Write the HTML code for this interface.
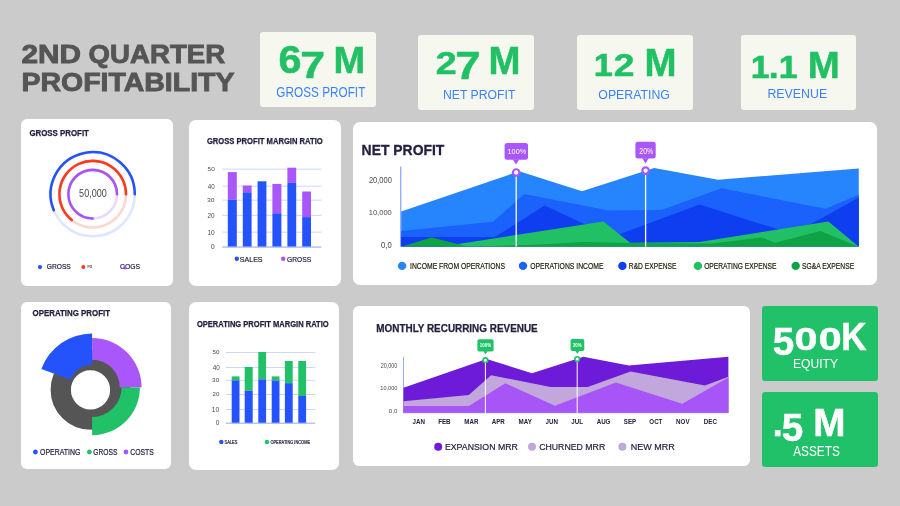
<!DOCTYPE html>
<html lang="en">
<head>
<meta charset="utf-8">
<title>2nd Quarter Profitability</title>
<style>
html,body{margin:0;padding:0}
body{width:900px;height:506px;overflow:hidden;background:#cbcbcb;font-family:"Liberation Sans",sans-serif}
#page{position:relative;width:900px;height:506px;overflow:hidden;background:#cbcbcb}
.card{position:absolute;overflow:hidden}
.card svg{position:absolute;left:0;top:0;display:block}
.t{position:absolute;white-space:nowrap;line-height:1;transform-origin:0 0;display:block}
h1{margin:0;font-size:inherit;font-weight:inherit}
</style>
</head>
<body>
<div id="page">
<h1>
<span class="t" style="left:21px;top:40.61px;font-size:26.348px;color:#555555;font-weight:700;transform:translateX(0.412px) scaleX(1.1303);-webkit-text-stroke:0.9px #555555">2ND</span>
<span class="t" style="left:88px;top:40.61px;font-size:26.348px;color:#555555;font-weight:700;transform:translateX(0.601px) scaleX(1.0487);-webkit-text-stroke:0.9px #555555">QUARTER</span>
<span class="t" style="left:21px;top:68.61px;font-size:26.348px;color:#555555;font-weight:700;transform:translateX(0.54px) scaleX(1.0808);-webkit-text-stroke:0.9px #555555">PROFITABILITY</span>
</h1>
<div class="card" id="kpi1" style="left:260px;top:32.2px;width:116px;height:74.8px;background:#f6f8f0;border-radius:3px">
<span class="t" style="left:18px;top:8.37px;font-size:38.135px;color:#21c064;font-weight:700;transform:translateX(0.376px) scaleX(1.0841);-webkit-text-stroke:0.5px #21c064">6</span>
<span class="t" style="left:40px;top:14.85px;font-size:37.407px;color:#21c064;font-weight:700;transform:translateX(0.242px) scaleX(1.1942);-webkit-text-stroke:0.5px #21c064">7</span>
<span class="t" style="left:73px;top:9.85px;font-size:37.407px;color:#21c064;font-weight:700;transform:translateX(0.481px) scaleX(1.0173);-webkit-text-stroke:0.5px #21c064">M</span>
<span class="t" style="left:16px;top:53.78px;font-size:13.855px;color:#3b82f6;transform:translateX(0.328px) scaleX(0.8508)">GROSS PROFIT</span>
</div>
<div class="card" id="kpi2" style="left:418.2px;top:34.9px;width:115.8px;height:75.1px;background:#f6f8f0;border-radius:3px">
<span class="t" style="left:16.8px;top:13.37px;font-size:31.364px;color:#21c064;font-weight:700;transform:translateX(0.75px) scaleX(1.1988);-webkit-text-stroke:0.5px #21c064">2</span>
<span class="t" style="left:36.8px;top:12.44px;font-size:38.373px;color:#21c064;font-weight:700;transform:translateX(0.336px) scaleX(1.1898);-webkit-text-stroke:0.5px #21c064">7</span>
<span class="t" style="left:69.8px;top:7.39px;font-size:38.663px;color:#21c064;font-weight:700;transform:translateX(0.521px) scaleX(0.9927);-webkit-text-stroke:0.5px #21c064">M</span>
<span class="t" style="left:23.8px;top:53.44px;font-size:13.663px;color:#3b82f6;transform:translateX(0.997px) scaleX(0.8946)">NET PROFIT</span>
</div>
<div class="card" id="kpi3" style="left:577.1px;top:34.9px;width:115.8px;height:75.1px;background:#f6f8f0;border-radius:3px">
<span class="t" style="left:15.9px;top:15.49px;font-size:31.105px;color:#21c064;font-weight:700;transform:translateX(0.85px) scaleX(1.1045);-webkit-text-stroke:0.5px #21c064">1</span>
<span class="t" style="left:35.9px;top:15.27px;font-size:31.364px;color:#21c064;font-weight:700;transform:translateX(0.71px) scaleX(1.1862);-webkit-text-stroke:0.5px #21c064">2</span>
<span class="t" style="left:66.9px;top:9.31px;font-size:38.518px;color:#21c064;font-weight:700;transform:translateX(0.6px) scaleX(0.9991);-webkit-text-stroke:0.5px #21c064">M</span>
<span class="t" style="left:20.9px;top:53.44px;font-size:13.663px;color:#3b82f6;transform:translateX(0.359px) scaleX(0.8997)">OPERATING</span>
</div>
<div class="card" id="kpi4" style="left:740.6px;top:34.9px;width:115.4px;height:75.1px;background:#f6f8f0;border-radius:3px">
<span class="t" style="left:9.4px;top:18.31px;font-size:30.96px;color:#21c064;font-weight:700;transform:translateX(0.733px) scaleX(1.0979);-webkit-text-stroke:0.5px #21c064">1</span>
<span class="t" style="left:27.4px;top:14.96px;font-size:33.734px;color:#21c064;font-weight:700;transform:translateX(0.704px) scaleX(1.0559);-webkit-text-stroke:0.5px #21c064">.</span>
<span class="t" style="left:37.4px;top:18.31px;font-size:30.96px;color:#21c064;font-weight:700;transform:translateX(0.733px) scaleX(1.0979);-webkit-text-stroke:0.5px #21c064">1</span>
<span class="t" style="left:66.4px;top:11.61px;font-size:37.694px;color:#21c064;font-weight:700;transform:translateX(0.645px) scaleX(1.0197);-webkit-text-stroke:0.5px #21c064">M</span>
<span class="t" style="left:26.4px;top:52.31px;font-size:13.227px;color:#3b82f6;transform:translateX(0.4px) scaleX(0.9352)">REVENUE</span>
</div>
<div class="card" id="gp" style="left:21px;top:118.6px;width:152px;height:167.4px;background:#fff;border-radius:6px">
<svg width="152" height="167.4" viewBox="21 118.6 152 167.4">
<circle cx="92.7" cy="193.8" r="42.1" fill="none" stroke="#dfe6ff" stroke-width="2.6"/>
<path d="M134.8 193.8A42.1 42.1 0 1 0 53.8 209.91" fill="none" stroke="#2553fb" stroke-width="2.6" stroke-linecap="round"/>
<circle cx="92.7" cy="193.8" r="33.3" fill="none" stroke="#ffd6d0" stroke-width="2.6"/>
<path d="M126 193.8A33.3 33.3 0 1 0 71.74 219.68" fill="none" stroke="#ff3a20" stroke-width="2.6" stroke-linecap="round"/>
<circle cx="92.7" cy="193.8" r="24.3" fill="none" stroke="#ead8ff" stroke-width="2.6"/>
<path d="M117 193.8A24.3 24.3 0 1 0 92.7 218.1" fill="none" stroke="#a855f7" stroke-width="2.6" stroke-linecap="round"/>
<circle cx="40" cy="266.7" r="2.1" fill="#2553fb"/>
<circle cx="83.3" cy="266.7" r="2" fill="#ff3a20"/>
</svg>
<span class="t" style="left:8px;top:9.98px;font-size:9.012px;color:#23213f;font-weight:700;transform:translateX(0.417px) scaleX(0.8746);-webkit-text-stroke:0.25px #23213f">GROSS PROFIT</span>
<span class="t" style="left:58px;top:70.79px;font-size:10.175px;color:#4a4a4a;transform:translateX(0.09px) scaleX(0.8914)">50,000</span>
<span class="t" style="left:25px;top:144.88px;font-size:7.704px;color:#23213f;transform:translateX(0.745px) scaleX(0.8647);-webkit-text-stroke:0.2px #23213f">GROSS</span>
<span class="t" style="left:66px;top:147.5px;font-size:3.779px;color:#23213f;transform:translateX(0.129px) scaleX(1.4558)">RI</span>
<span class="t" style="left:99px;top:144.88px;font-size:7.704px;color:#23213f;transform:translateX(0.066px) scaleX(0.8806);-webkit-text-stroke:0.2px #23213f">COGS</span>
<svg width="152" height="167.4" viewBox="21 118.6 152 167.4">
<circle cx="124.7" cy="267.3" r="1.7" fill="#a855f7"/>
</svg>
</div>
<div class="card" id="gpmr" style="left:188.6px;top:120.3px;width:152.1px;height:166.2px;background:#fff;border-radius:7px">
<svg width="152.1" height="166.2" viewBox="188.6 120.3 152.1 166.2">
<rect x="222" y="169" width="99" height="0.9" fill="#c6d2ff"/>
<rect x="222" y="186" width="99" height="0.9" fill="#c6d2ff"/>
<rect x="222" y="200" width="99" height="0.9" fill="#c6d2ff"/>
<rect x="222" y="215.2" width="99" height="0.9" fill="#c6d2ff"/>
<rect x="222" y="232" width="99" height="0.9" fill="#c6d2ff"/>
<rect x="227.4" y="172.4" width="9" height="27.6" fill="#a956fa"/>
<rect x="227.4" y="200" width="9" height="47.4" fill="#2553fb"/>
<rect x="242.4" y="185.8" width="8.8" height="6.8" fill="#a956fa"/>
<rect x="242.4" y="192.6" width="8.8" height="54.8" fill="#2553fb"/>
<rect x="257.2" y="181.6" width="8.8" height="65.8" fill="#2553fb"/>
<rect x="272" y="184.2" width="9" height="29.4" fill="#a956fa"/>
<rect x="272" y="213.6" width="9" height="33.8" fill="#2553fb"/>
<rect x="287" y="168" width="8.8" height="15.2" fill="#a956fa"/>
<rect x="287" y="183.2" width="8.8" height="64.2" fill="#2553fb"/>
<rect x="301.8" y="191.8" width="8.8" height="25.6" fill="#a956fa"/>
<rect x="301.8" y="217.4" width="8.8" height="30" fill="#2553fb"/>
<rect x="222" y="246.7" width="99" height="1.3" fill="#a3b6ff"/>
<circle cx="236.4" cy="259" r="2.2" fill="#2553fb"/>
<circle cx="282.8" cy="259" r="2.2" fill="#a956fa"/>
</svg>
<span class="t" style="left:17.4px;top:16.92px;font-size:8.721px;color:#23213f;font-weight:700;transform:translateX(0.886px) scaleX(0.8736);-webkit-text-stroke:0.25px #23213f">GROSS PROFIT MARGIN RATIO</span>
<span class="t" style="left:18.4px;top:45.87px;font-size:6.185px;color:#4a4a4a;transform:translateX(0.619px) scaleX(1.0322)">50</span>
<span class="t" style="left:18.4px;top:62.6px;font-size:6.977px;color:#4a4a4a;transform:translateX(0.731px) scaleX(0.8932)">40</span>
<span class="t" style="left:18.4px;top:76.87px;font-size:6.185px;color:#4a4a4a;transform:translateX(0.092px) scaleX(1.0948)">30</span>
<span class="t" style="left:18.4px;top:91.6px;font-size:6.977px;color:#4a4a4a;transform:translateX(0.496px) scaleX(0.9151)">20</span>
<span class="t" style="left:18.4px;top:108.6px;font-size:6.977px;color:#4a4a4a;transform:translateX(0.424px) scaleX(0.9356)">10</span>
<span class="t" style="left:21.4px;top:122.8px;font-size:6.977px;color:#4a4a4a;transform:translateX(0.635px) scaleX(1.0203)">0</span>
<span class="t" style="left:50.4px;top:136.06px;font-size:7.849px;color:#23213f;transform:translateX(0.865px) scaleX(0.8963);-webkit-text-stroke:0.2px #23213f">SALES</span>
<span class="t" style="left:98.4px;top:136.06px;font-size:7.849px;color:#23213f;transform:translateX(0.08px) scaleX(0.8536);-webkit-text-stroke:0.2px #23213f">GROSS</span>
</div>
<div class="card" id="np" style="left:353.4px;top:122.4px;width:523.3px;height:162.3px;background:#fff;border-radius:7px">
<svg width="523.3" height="162.3" viewBox="353.4 122.4 523.3 162.3">
<rect x="400.6" y="167" width="1.1" height="80" fill="#7d97ff"/>
<polygon points="401.6,247 401.6,211.9 519.6,171.7 582.4,191.6 654.6,168.3 718.5,180.1 859.2,168.8 859.2,247" fill="#2684fc"/>
<polygon points="401.6,247 401.6,231.5 493.5,222.2 524.6,194.3 609.1,210.9 661.6,210.3 722.1,188.6 825.6,209.2 859.2,195.1 859.2,247" fill="#1a62fb"/>
<polygon points="401.6,247 401.6,237.5 495.2,237.5 545,205.9 612.6,237.5 699.8,205 793.6,234.5 859.2,198 859.2,247" fill="#0e3ef0"/>
<polygon points="440.6,247 440.6,247.1 603.8,221.9 630.5,243.2 699.8,242.5 828.8,221.9 859.2,247.1 859.2,247" fill="#22c064"/>
<polygon points="401.6,247 401.6,247.1 431.9,237.9 469.2,247.1 540.6,245 582.4,242.5 630.5,243.4 712.3,243.8 762.1,237.9 775.5,243.2 820.8,231.3 859.2,247.1 859.2,247" fill="#0fa345"/>
<rect x="515.95" y="172.9" width="1.3" height="74.1" fill="#fff"/><circle cx="516.6" cy="172.9" r="3.25" fill="#fff" stroke="#a956fa" stroke-width="2.2"/>
<rect x="645.35" y="171" width="1.3" height="76" fill="#fff"/><circle cx="646" cy="171" r="3.25" fill="#fff" stroke="#a956fa" stroke-width="2.2"/>
<rect x="505" y="143.3" width="23.4" height="16.8" rx="2.5" fill="#a956fa"/><path d="M513.2 159.8L519.6 159.8L516.4 165Z" fill="#a956fa"/>
<rect x="635.8" y="142.2" width="20.3" height="16.7" rx="2.5" fill="#a956fa"/><path d="M642.7 158.6L649.1 158.6L645.9 164Z" fill="#a956fa"/>
<circle cx="402.5" cy="266.3" r="4.2" fill="#2684fc"/>
<circle cx="523.4" cy="266.3" r="4.2" fill="#1a62fb"/>
<circle cx="622.8" cy="266.3" r="4.2" fill="#0e3ef0"/>
<circle cx="698.3" cy="266.3" r="4.2" fill="#22c064"/>
<circle cx="796.1" cy="266.3" r="4.2" fill="#0fa345"/>
</svg>
<span class="t" style="left:7.6px;top:20.26px;font-size:14.826px;color:#23213f;font-weight:700;transform:translateX(0.621px) scaleX(0.9393);-webkit-text-stroke:0.3px #23213f">NET PROFIT</span>
<span class="t" style="left:14.6px;top:54.31px;font-size:8.14px;color:#4a4a4a;transform:translateX(0.895px) scaleX(0.9241)">20,000</span>
<span class="t" style="left:14.6px;top:87.01px;font-size:8.026px;color:#4a4a4a;transform:translateX(0.747px) scaleX(0.9380)">10,000</span>
<span class="t" style="left:27.6px;top:119.31px;font-size:8.14px;color:#4a4a4a;transform:translateX(0.019px) scaleX(0.9441)">0,0</span>
<span class="t" style="left:153.6px;top:25.18px;font-size:7.704px;color:#fff;transform:translateX(0.52px) scaleX(0.9510)">100%</span>
<span class="t" style="left:285.6px;top:25.37px;font-size:8.187px;color:#fff;transform:translateX(0.298px) scaleX(0.8498)">20%</span>
<span class="t" style="left:56.6px;top:139.47px;font-size:8.43px;color:#26260f;transform:translateX(0.038px) scaleX(0.8056);-webkit-text-stroke:0.2px #26260f">INCOME FROM OPERATIONS</span>
<span class="t" style="left:176.6px;top:139.47px;font-size:8.43px;color:#26260f;transform:translateX(0.22px) scaleX(0.8090);-webkit-text-stroke:0.2px #26260f">OPERATIONS INCOME</span>
<span class="t" style="left:274.6px;top:139.47px;font-size:8.43px;color:#26260f;transform:translateX(0.796px) scaleX(0.7944);-webkit-text-stroke:0.2px #26260f">R&amp;D EXPENSE</span>
<span class="t" style="left:350.6px;top:139.47px;font-size:8.43px;color:#26260f;transform:translateX(0.154px) scaleX(0.7927);-webkit-text-stroke:0.2px #26260f">OPERATING EXPENSE</span>
<span class="t" style="left:448.6px;top:139.47px;font-size:8.43px;color:#26260f;transform:translateX(0.068px) scaleX(0.8012);-webkit-text-stroke:0.2px #26260f">SG&amp;A EXPENSE</span>
</div>
<div class="card" id="op" style="left:21px;top:302px;width:150px;height:166.6px;background:#fff;border-radius:6px">
<svg width="150" height="166.6" viewBox="21 302 150 166.6">
<circle cx="90.5" cy="389.8" r="29.75" fill="none" stroke="#555555" stroke-width="20.3"/>
<path d="M41.36 368.93A54 54 0 0 1 92.1 333.4L92.1 364.7A22.7 22.7 0 0 0 70.77 379.64Z" fill="#2553fb"/>
<path d="M92.1 337.9A49.5 49.5 0 0 1 141.6 387.4L119.8 387.4A27.7 27.7 0 0 0 92.1 359.7Z" fill="#a956fa"/>
<path d="M139.9 387.4A47.8 47.8 0 0 1 92.1 435.2L92.1 416.9A29.5 29.5 0 0 0 121.6 387.4Z" fill="#21c267"/>
<circle cx="35.4" cy="452" r="2.4" fill="#2553fb"/>
<circle cx="89.4" cy="452" r="2.4" fill="#21c267"/>
<circle cx="126" cy="452" r="2.4" fill="#a956fa"/>
</svg>
<span class="t" style="left:11px;top:6.62px;font-size:8.721px;color:#23213f;font-weight:700;transform:translateX(0.601px) scaleX(0.9043);-webkit-text-stroke:0.25px #23213f">OPERATING PROFIT</span>
<span class="t" style="left:19px;top:146.71px;font-size:8.14px;color:#23213f;transform:translateX(0.005px) scaleX(0.8534);-webkit-text-stroke:0.2px #23213f">OPERATING</span>
<span class="t" style="left:72px;top:146.71px;font-size:8.14px;color:#23213f;transform:translateX(0.362px) scaleX(0.8184);-webkit-text-stroke:0.2px #23213f">GROSS</span>
<span class="t" style="left:109px;top:146.71px;font-size:8.14px;color:#23213f;transform:translateX(0.333px) scaleX(0.8366);-webkit-text-stroke:0.2px #23213f">COSTS</span>
</div>
<div class="card" id="opmr" style="left:188.7px;top:302px;width:150.3px;height:167.6px;background:#fff;border-radius:7px">
<svg width="150.3" height="167.6" viewBox="188.7 302 150.3 167.6">
<rect x="225.6" y="352" width="89.4" height="0.9" fill="#c6d2ff"/>
<rect x="225.6" y="367" width="89.4" height="0.9" fill="#c6d2ff"/>
<rect x="225.6" y="379.8" width="89.4" height="0.9" fill="#c6d2ff"/>
<rect x="225.6" y="394" width="89.4" height="0.9" fill="#c6d2ff"/>
<rect x="225.6" y="409" width="89.4" height="0.9" fill="#c6d2ff"/>
<rect x="231.4" y="376.4" width="7.8" height="4" fill="#21c267"/>
<rect x="231.4" y="380.4" width="7.8" height="42.8" fill="#2553fb"/>
<rect x="244.4" y="367" width="8" height="23.6" fill="#21c267"/>
<rect x="244.4" y="390.6" width="8" height="32.6" fill="#2553fb"/>
<rect x="258" y="352" width="7.8" height="27.4" fill="#21c267"/>
<rect x="258" y="379.4" width="7.8" height="43.8" fill="#2553fb"/>
<rect x="271.4" y="376.4" width="7.8" height="4.2" fill="#21c267"/>
<rect x="271.4" y="380.6" width="7.8" height="42.6" fill="#2553fb"/>
<rect x="284.6" y="361" width="7.8" height="22.2" fill="#21c267"/>
<rect x="284.6" y="383.2" width="7.8" height="40" fill="#2553fb"/>
<rect x="298" y="361" width="7.8" height="35" fill="#21c267"/>
<rect x="298" y="396" width="7.8" height="27.2" fill="#2553fb"/>
<rect x="225.6" y="422.6" width="89.4" height="1.2" fill="#a3b6ff"/>
<circle cx="221" cy="442" r="2.2" fill="#2553fb"/>
<circle cx="266.6" cy="442" r="2.2" fill="#21c267"/>
</svg>
<span class="t" style="left:7.3px;top:17.82px;font-size:8.721px;color:#23213f;font-weight:700;transform:translateX(0.921px) scaleX(0.8650);-webkit-text-stroke:0.25px #23213f">OPERATING PROFIT MARGIN RATIO</span>
<span class="t" style="left:23.3px;top:46.92px;font-size:6.242px;color:#4a4a4a;transform:translateX(0.518px) scaleX(0.9890)">50</span>
<span class="t" style="left:23.3px;top:63.19px;font-size:6.395px;color:#4a4a4a;transform:translateX(0.668px)">40</span>
<span class="t" style="left:23.3px;top:74.92px;font-size:6.242px;color:#4a4a4a;transform:translateX(0.105px) scaleX(1.0314)">30</span>
<span class="t" style="left:23.3px;top:88.92px;font-size:6.242px;color:#4a4a4a;transform:translateX(0.483px) scaleX(0.9877)">20</span>
<span class="t" style="left:22.3px;top:105.39px;font-size:6.395px;color:#4a4a4a;transform:translateX(0.871px) scaleX(1.0497)">10</span>
<span class="t" style="left:26.3px;top:118.19px;font-size:6.395px;color:#4a4a4a;transform:translateX(0.672px) scaleX(1.0071)">0</span>
<span class="t" style="left:35.3px;top:138.67px;font-size:4.651px;color:#23213f;transform:translateX(0.617px) scaleX(0.8492);-webkit-text-stroke:0.2px #23213f">SALES</span>
<span class="t" style="left:81.3px;top:138.67px;font-size:4.651px;color:#23213f;transform:translateX(0.452px) scaleX(0.8451);-webkit-text-stroke:0.2px #23213f">OPERATING INCOME</span>
</div>
<div class="card" id="mrr" style="left:353px;top:305.6px;width:397.2px;height:160.4px;background:#fff;border-radius:6px">
<svg width="397.2" height="160.4" viewBox="353 305.6 397.2 160.4">
<rect x="403.1" y="356.4" width="0.8" height="56" fill="#7d97ff"/>
<polygon points="403.5,412.4 403.5,387.3 486.6,358.5 532,372.8 583.4,356.4 628.8,365.1 728.4,356.4 728.4,412.4" fill="#6d1bd8"/>
<polygon points="403.5,412.4 403.5,400.9 468.8,394.5 491.1,374.9 550.5,386.5 587.8,386.5 630.5,371 705,385.2 728.4,376.3 728.4,412.4" fill="#c2a7dc"/>
<polygon points="403.5,412.4 403.5,405.7 468.8,405.7 505.3,382.9 554.9,405.3 615.9,382.2 682.3,403.4 728.4,377.2 728.4,412.4" fill="#a855f7"/>
<rect x="403.1" y="412.1" width="325.3" height="0.7" fill="#8a7cf5"/>
<rect x="484.9" y="359.8" width="1" height="52.6" fill="#fff"/><circle cx="485.4" cy="359.8" r="2.3" fill="#fff" stroke="#21c267" stroke-width="1.6"/>
<rect x="576.7" y="358.6" width="1" height="53.8" fill="#fff"/><circle cx="577.2" cy="358.6" r="2.3" fill="#fff" stroke="#21c267" stroke-width="1.6"/>
<rect x="477.4" y="338.9" width="16.2" height="12.2" rx="1.8" fill="#21c267"/><path d="M483.3 350.8L487.7 350.8L485.5 353.9Z" fill="#21c267"/>
<rect x="570.6" y="338.6" width="13.7" height="12.1" rx="1.8" fill="#21c267"/><path d="M575.1 350.4L579.5 350.4L577.3 353.4Z" fill="#21c267"/>
<circle cx="438.2" cy="446.3" r="4" fill="#6d1bd8"/>
<circle cx="532" cy="446.3" r="4" fill="#c2a7dc"/>
<circle cx="622.4" cy="446.3" r="4" fill="#c2a7dc"/>
</svg>
<span class="t" style="left:23px;top:18.15px;font-size:10.465px;color:#23213f;font-weight:700;transform:translateX(0.293px) scaleX(0.9483);-webkit-text-stroke:0.25px #23213f">MONTHLY RECURRING REVENUE</span>
<span class="t" style="left:27px;top:57.56px;font-size:6.313px;color:#4a4a4a;transform:translateX(0.801px) scaleX(0.8614)">20,000</span>
<span class="t" style="left:27px;top:79.54px;font-size:6.105px;color:#4a4a4a;transform:translateX(0.298px) scaleX(0.9150)">10,000</span>
<span class="t" style="left:35px;top:102.34px;font-size:6.105px;color:#4a4a4a;transform:translateX(0.815px) scaleX(1.0035)">0,0</span>
<span class="t" style="left:59px;top:113.74px;font-size:6.686px;color:#23213f;font-weight:700;transform:translateX(0.457px) scaleX(0.9300)">JAN</span>
<span class="t" style="left:85px;top:113.74px;font-size:6.686px;color:#23213f;font-weight:700;transform:translateX(0.184px) scaleX(0.9300)">FEB</span>
<span class="t" style="left:111px;top:113.74px;font-size:6.686px;color:#23213f;font-weight:700;transform:translateX(0.368px) scaleX(0.9300)">MAR</span>
<span class="t" style="left:138px;top:113.74px;font-size:6.686px;color:#23213f;font-weight:700;transform:translateX(0.71px) scaleX(0.9300)">APR</span>
<span class="t" style="left:165px;top:113.74px;font-size:6.686px;color:#23213f;font-weight:700;transform:translateX(0.577px) scaleX(0.9300)">MAY</span>
<span class="t" style="left:192px;top:113.74px;font-size:6.686px;color:#23213f;font-weight:700;transform:translateX(0.457px) scaleX(0.9300)">JUN</span>
<span class="t" style="left:218px;top:113.74px;font-size:6.686px;color:#23213f;font-weight:700;transform:translateX(0.352px) scaleX(0.9300)">JUL</span>
<span class="t" style="left:243px;top:113.74px;font-size:6.686px;color:#23213f;font-weight:700;transform:translateX(0.656px) scaleX(0.9300)">AUG</span>
<span class="t" style="left:270px;top:113.74px;font-size:6.686px;color:#23213f;font-weight:700;transform:translateX(0.776px) scaleX(0.9300)">SEP</span>
<span class="t" style="left:296px;top:113.74px;font-size:6.686px;color:#23213f;font-weight:700;transform:translateX(0.312px) scaleX(0.9300)">OCT</span>
<span class="t" style="left:323px;top:113.74px;font-size:6.686px;color:#23213f;font-weight:700;transform:translateX(0.098px) scaleX(0.9300)">NOV</span>
<span class="t" style="left:350px;top:113.74px;font-size:6.686px;color:#23213f;font-weight:700;transform:translateX(0.803px) scaleX(0.9300)">DEC</span>
<span class="t" style="left:126px;top:37.68px;font-size:5.814px;color:#fff;font-weight:700;transform:translateX(0.874px) scaleX(0.7578)">100%</span>
<span class="t" style="left:219px;top:37.28px;font-size:5.814px;color:#fff;font-weight:700;transform:translateX(0.951px) scaleX(0.7424)">20%</span>
<span class="t" style="left:91px;top:136.88px;font-size:9.593px;color:#23213f;transform:translateX(0.918px) scaleX(0.9162);-webkit-text-stroke:0.2px #23213f">EXPANSION MRR</span>
<span class="t" style="left:186px;top:136.88px;font-size:9.593px;color:#23213f;transform:translateX(0.132px) scaleX(0.9131);-webkit-text-stroke:0.2px #23213f">CHURNED MRR</span>
<span class="t" style="left:277px;top:136.88px;font-size:9.593px;color:#23213f;transform:translateX(0.677px) scaleX(0.9393);-webkit-text-stroke:0.2px #23213f">NEW MRR</span>
</div>
<div class="card" id="eq" style="left:761.9px;top:305.6px;width:115.9px;height:75.1px;background:#21c16a;border-radius:3px">
<span class="t" style="left:10.1px;top:17.89px;font-size:38.696px;color:#fff;font-weight:700;transform:translateX(0.843px);-webkit-text-stroke:0.5px #fff">5</span>
<span class="t" style="left:32.1px;top:18.28px;font-size:31.921px;color:#fff;font-weight:700;transform:translateX(0.529px) scaleX(1.2915);-webkit-text-stroke:0.5px #fff">0</span>
<span class="t" style="left:56.1px;top:18.28px;font-size:31.921px;color:#fff;font-weight:700;transform:translateX(0.855px) scaleX(1.2864);-webkit-text-stroke:0.5px #fff">0</span>
<span class="t" style="left:79.1px;top:12.17px;font-size:38.809px;color:#fff;font-weight:700;transform:translateX(0.198px) scaleX(0.9040);-webkit-text-stroke:0.5px #fff">K</span>
<span class="t" style="left:31.1px;top:52.9px;font-size:12.646px;color:#fff;transform:translateX(0.025px) scaleX(0.9586)">EQUITY</span>
</div>
<div class="card" id="as" style="left:761.9px;top:392px;width:115.9px;height:74.7px;background:#21c16a;border-radius:3px">
<span class="t" style="left:10.1px;top:13.92px;font-size:36.26px;color:#fff;font-weight:700;transform:translateX(0.755px) scaleX(0.9792);-webkit-text-stroke:0.5px #fff">.</span>
<span class="t" style="left:19.1px;top:16.91px;font-size:38.552px;color:#fff;font-weight:700;transform:translateX(0.652px) scaleX(1.0041);-webkit-text-stroke:0.5px #fff">5</span>
<span class="t" style="left:51.1px;top:11.77px;font-size:38.809px;color:#fff;font-weight:700;transform:translateX(0.174px) scaleX(0.9977);-webkit-text-stroke:0.5px #fff">M</span>
<span class="t" style="left:31.1px;top:52.83px;font-size:13.791px;color:#fff;transform:translateX(0.201px) scaleX(0.8566)">ASSETS</span>
</div>
</div>
</body>
</html>
